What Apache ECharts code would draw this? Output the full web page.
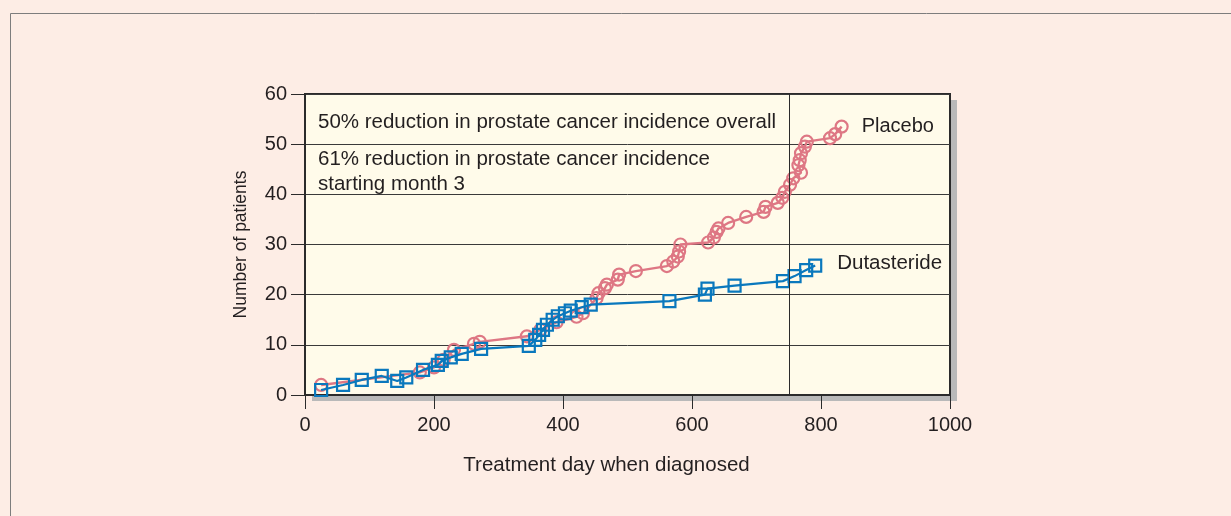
<!DOCTYPE html>
<html>
<head>
<meta charset="utf-8">
<script src="https://cdn.jsdelivr.net/npm/echarts@6/dist/echarts.min.js"></script>
<style>
  html, body { margin: 0; padding: 0; background: #fdede5; }
  #chart { width: 1231px; height: 516px; }
</style>
</head>
<body>
<div id="chart"></div>
<script>
// Cumulative number of patients diagnosed, by treatment day
var placeboDays   = [25, 178, 200, 215, 231, 262, 271, 344, 365, 390, 421, 431, 452, 455, 465, 468, 485, 487, 513, 561, 571, 578, 580, 582, 625, 634, 638, 641, 656, 684, 711, 714, 733, 740, 744, 752, 757, 769, 765, 767, 769, 775, 778, 814, 822, 832];
var placeboCounts = [2, 4.5, 5.5, 7, 9, 10.2, 10.6, 11.7, 13, 14.5, 15.6, 16.3, 19.3, 20.3, 21.3, 22, 23, 24, 24.7, 25.7, 26.6, 27.6, 28.6, 30, 30.4, 31.4, 32.5, 33.2, 34.3, 35.5, 36.5, 37.5, 38.3, 39.3, 40.5, 41.9, 43.2, 44.3, 45.8, 46.8, 48.2, 49.5, 50.5, 51.2, 52, 53.5];

var dutaDays   = [25, 59, 88, 119, 143, 157, 183, 206, 212, 226, 243, 273, 347, 357, 363, 369, 375, 384, 392, 403, 412, 429, 443, 565, 620, 624, 666, 741, 759, 777, 791];
var dutaCounts = [1, 2, 3, 3.8, 2.8, 3.5, 5, 6, 6.8, 7.5, 8.2, 9.2, 9.8, 11, 12, 13, 14, 15, 15.7, 16.3, 16.8, 17.5, 18, 18.7, 20, 21.2, 21.8, 22.7, 23.7, 24.9, 25.8];

var xTicks = [0, 200, 400, 600, 800, 1000];
var yTicks = [0, 10, 20, 30, 40, 50, 60];
var cutoffDay = 750;

var seriesNames = ['Placebo', 'Dutasteride'];
var noteOverall = '50% reduction in prostate cancer incidence overall';
var noteMonth3 = ['61% reduction in prostate cancer incidence', 'starting month 3'];

function pairs(xs, ys) {
  return xs.map(function (x, i) { return [x, ys[i]]; });
}

var FONT = '"Liberation Sans", Arial, Helvetica, sans-serif';
var TEXT = '#231f20';
var PINK = '#de7784';
var BLUE = '#0a78bd';

var chart = echarts.init(document.getElementById('chart'));

chart.setOption({
  backgroundColor: '#fdede5',
  animation: false,
  textStyle: { fontFamily: FONT, color: TEXT },
  grid: {
    left: 305, right: 281, top: 94, bottom: 121,
    show: true,
    backgroundColor: '#fffbea',
    borderColor: '#2b2b2b',
    borderWidth: 2
  },
  graphic: [
    {
      // page frame
      type: 'rect', silent: true, z: -2,
      shape: { x: 10.5, y: 13.5, width: 1300, height: 600 },
      style: { fill: 'none', stroke: '#7d7d7d', lineWidth: 1 }
    },
    {
      // drop shadow behind the plotting panel
      type: 'rect', silent: true, z: -1,
      shape: { x: 312, y: 100, width: 645, height: 301 },
      style: { fill: '#b9b9b9' }
    },
    {
      type: 'text', left: 318, top: 112, z: 10,
      style: { text: noteOverall, fontFamily: FONT, fontSize: 20.5, fill: TEXT }
    },
    {
      type: 'text', left: 318, top: 147, z: 10,
      style: { text: noteMonth3.join('\n'), fontFamily: FONT, fontSize: 20.5, lineHeight: 25, fill: TEXT }
    }
  ],
  xAxis: {
    type: 'value',
    min: xTicks[0], max: xTicks[xTicks.length - 1], interval: 200,
    name: 'Treatment day when diagnosed',
    nameLocation: 'middle',
    nameGap: 60,
    nameTextStyle: { fontFamily: FONT, fontSize: 20.5, color: TEXT, padding: [0, 42, 0, 0] },
    axisLine: { show: true, lineStyle: { color: '#2b2b2b', width: 2 } },
    axisTick: { show: true, inside: false, length: 14, lineStyle: { color: '#2b2b2b', width: 1 } },
    axisLabel: {
      margin: 20, fontFamily: FONT, fontSize: 20, color: TEXT,
      formatter: function (v) { return String(v); }
    },
    splitLine: { show: false }
  },
  yAxis: {
    type: 'value',
    min: yTicks[0], max: yTicks[yTicks.length - 1], interval: 10,
    name: 'Number of patients',
    nameLocation: 'middle',
    nameGap: 55,
    nameTextStyle: { fontFamily: FONT, fontSize: 17.5, color: TEXT },
    axisLine: { show: true, lineStyle: { color: '#2b2b2b', width: 2 } },
    axisTick: { show: true, inside: false, length: 14, lineStyle: { color: '#2b2b2b', width: 1 } },
    axisLabel: { margin: 18, fontFamily: FONT, fontSize: 20, color: TEXT },
    splitLine: { show: true, lineStyle: { color: '#3a3a3a', width: 1 } }
  },
  series: [
    {
      name: seriesNames[0],
      type: 'line',
      data: pairs(placeboDays, placeboCounts),
      symbol: 'circle',
      symbolSize: 12,
      z: 3,
      lineStyle: { color: PINK, width: 2.4 },
      itemStyle: { color: 'rgba(0,0,0,0)', borderColor: PINK, borderWidth: 2.2 },
      endLabel: {
        show: true, distance: 20,
        formatter: function (p) { return p.seriesName; },
        fontFamily: FONT, fontSize: 20, color: TEXT
      },
      markLine: {
        silent: true, symbol: ['none', 'none'],
        label: { show: false },
        lineStyle: { color: '#2b2b2b', width: 1, type: 'solid' },
        data: [{ xAxis: cutoffDay }]
      }
    },
    {
      name: seriesNames[1],
      type: 'line',
      data: pairs(dutaDays, dutaCounts),
      symbol: 'rect',
      symbolSize: 12,
      z: 4,
      lineStyle: { color: BLUE, width: 2.2 },
      itemStyle: { color: 'rgba(0,0,0,0)', borderColor: BLUE, borderWidth: 2.2 },
      endLabel: {
        show: true, distance: 22, offset: [0, -2],
        formatter: function (p) { return p.seriesName; },
        fontFamily: FONT, fontSize: 20.5, color: TEXT
      }
    }
  ]
});
</script>
</body>
</html>
